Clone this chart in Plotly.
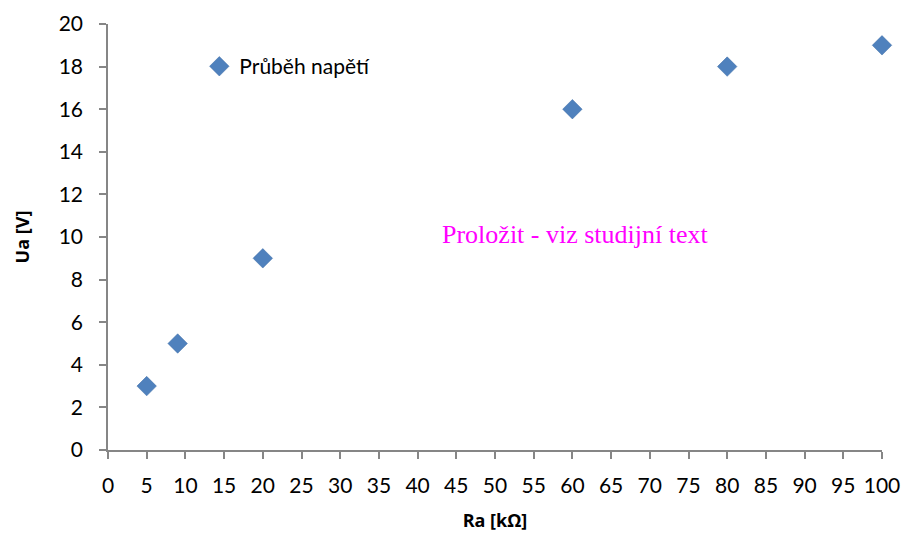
import plotly.graph_objects as go

# Measured load resistance and anode voltage
ra_kohm = [5, 9, 20, 60, 80, 100]
ua_volt = [3, 5, 9, 16, 18, 19]
series_name = "Průběh napětí"
note_text = "Proložit - viz studijní text"

x_ticks = list(range(0, 101, 5))
y_ticks = list(range(0, 21, 2))

axis_color = "#868686"
base_font = "Lato, Open Sans, sans-serif"
title_font = dict(family="Open Sans, Lato, sans-serif", size=18, color="#000000")
tick_font = dict(family=base_font, size=21, color="#000000")

fig = go.Figure()
fig.add_trace(go.Scatter(
    x=ra_kohm, y=ua_volt, mode="markers", name=series_name,
    marker=dict(symbol="diamond", size=15, color="#4F81BD",
                line=dict(width=0.5, color="#3A6BA5")),
    cliponaxis=False,
    showlegend=True,
))

fig.update_layout(
    width=904, height=538,
    margin=dict(l=108, r=22, t=24, b=88, autoexpand=False),
    paper_bgcolor="white", plot_bgcolor="white",
    showlegend=True,
    legend=dict(x=0.118, y=0.9, xanchor="left", yanchor="middle",
                font=dict(family=base_font, size=21, color="#000000"),
                bgcolor="rgba(0,0,0,0)", itemwidth=30, tracegroupgap=0),
    xaxis=dict(range=[0, 100], tickvals=x_ticks, showgrid=False, zeroline=False,
               showline=True, linecolor=axis_color, linewidth=1.5,
               ticks="outside", ticklen=7, tickcolor=axis_color, tickwidth=1.5,
               ticklabelstandoff=9, tickfont=tick_font,
               title=dict(text="<b>Ra [kΩ]</b>", standoff=18, font=title_font)),
    yaxis=dict(range=[0, 20], tickvals=y_ticks, showgrid=False, zeroline=False,
               showline=True, linecolor=axis_color, linewidth=1.5,
               ticks="outside", ticklen=7, tickcolor=axis_color, tickwidth=1.5,
               ticklabelstandoff=12, tickfont=tick_font,
               title=dict(text="<b>Ua [V]</b>", standoff=24, font=title_font)),
    annotations=[dict(
        x=60.4, y=10.1, xref="x", yref="y", text=note_text, showarrow=False,
        font=dict(family="Liberation Serif, Times New Roman, serif", size=26, color="#FF00FF"),
    )],
)

fig.write_html("out.html")
